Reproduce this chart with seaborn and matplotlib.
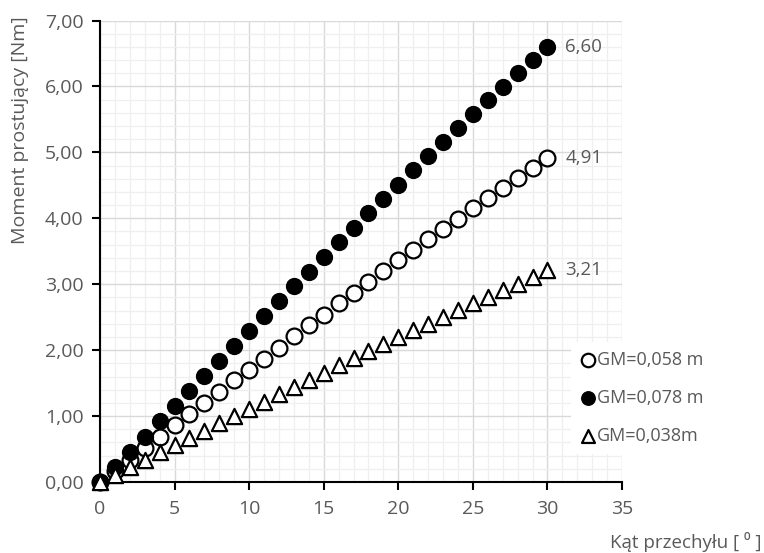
import matplotlib
matplotlib.use("Agg")
import matplotlib.pyplot as plt
import seaborn as sns
from matplotlib.ticker import MultipleLocator, FuncFormatter

# kąt przechyłu [deg]
angles = list(range(0, 31))

# moment prostujący [Nm]
gm_058 = [0.00, 0.17, 0.34, 0.51, 0.69, 0.86, 1.03, 1.20, 1.37, 1.54, 1.70,
          1.87, 2.04, 2.21, 2.38, 2.54, 2.71, 2.87, 3.03, 3.20, 3.36,
          3.52, 3.68, 3.84, 3.99, 4.15, 4.31, 4.46, 4.61, 4.76, 4.91]
gm_078 = [0.00, 0.23, 0.46, 0.69, 0.92, 1.15, 1.38, 1.61, 1.84, 2.06, 2.29,
          2.52, 2.74, 2.97, 3.19, 3.42, 3.64, 3.86, 4.08, 4.30, 4.51,
          4.73, 4.94, 5.16, 5.37, 5.58, 5.79, 5.99, 6.20, 6.40, 6.60]
gm_038 = [0.00, 0.11, 0.22, 0.34, 0.45, 0.56, 0.67, 0.78, 0.89, 1.00, 1.11,
          1.22, 1.33, 1.44, 1.55, 1.66, 1.77, 1.88, 1.98, 2.09, 2.20,
          2.30, 2.40, 2.51, 2.61, 2.71, 2.81, 2.91, 3.01, 3.11, 3.21]
labels = ['GM=0,058 m', 'GM=0,078 m', 'GM=0,038m']

sns.set_style("white")
plt.rcParams['font.family'] = ['Open Sans', 'DejaVu Sans']
GRAY = '#595959'

fig = plt.figure(figsize=(7.64, 5.53), dpi=100)
ax = fig.add_axes([100 / 764, 1 - 482 / 553, 522 / 764, 461.5 / 553])

sns.scatterplot(x=angles, y=gm_058, ax=ax, marker='o', s=130, color='white',
                edgecolor='black', linewidth=1.6, label=labels[0], clip_on=False, zorder=3)
sns.scatterplot(x=angles, y=gm_078, ax=ax, marker='o', s=130, color='black',
                edgecolor='black', linewidth=1.0, label=labels[1], clip_on=False, zorder=3)
sns.scatterplot(x=angles, y=gm_038, ax=ax, marker='^', s=120, color='white',
                edgecolor='black', linewidth=1.6, label=labels[2], clip_on=False, zorder=3)

# etykiety wartości końcowych
for ys in (gm_078, gm_058, gm_038):
    ax.annotate(f'{ys[-1]:.2f}'.replace('.', ','), (angles[-1], ys[-1]),
                xytext=(13, 0), textcoords='offset points', va='center',
                ha='left', fontsize=13.5, color=GRAY)

ax.set_xlim(0, 35)
ax.set_ylim(0, 7)
ax.xaxis.set_major_locator(MultipleLocator(5))
ax.xaxis.set_minor_locator(MultipleLocator(1))
ax.yaxis.set_major_locator(MultipleLocator(1))
ax.yaxis.set_minor_locator(MultipleLocator(0.2))
ax.yaxis.set_major_formatter(FuncFormatter(lambda v, p: f'{v:.2f}'.replace('.', ',')))

ax.grid(which='major', color='#d9d9d9', lw=1.0)
ax.grid(which='minor', color='#efefef', lw=0.9)
ax.set_axisbelow(True)

for side in ('top', 'right'):
    ax.spines[side].set_visible(False)
for side in ('left', 'bottom'):
    ax.spines[side].set_color('black')
    ax.spines[side].set_linewidth(1.5)

ax.tick_params(which='major', bottom=True, left=True, direction='out', length=6,
               width=1.5, color='black', labelcolor=GRAY, labelsize=14)
ax.tick_params(axis='x', which='major', pad=7)
ax.tick_params(axis='y', which='major', pad=6)
ax.tick_params(which='minor', length=0)

fig.text(20 / 764, 1 - 130 / 553, 'Moment prostujący [Nm]', rotation=90,
         ha='center', va='center', fontsize=14, color=GRAY)
fig.text(762 / 764, 1 - 542 / 553, 'Kąt przechyłu [ ⁰ ]', ha='right',
         va='center', fontsize=13.5, color=GRAY)

leg = ax.legend(loc='upper left', bbox_to_anchor=(571 / 764, 1 - 342 / 553),
                bbox_transform=fig.transFigure, frameon=True, facecolor='white',
                edgecolor='none', framealpha=1, fancybox=False, fontsize=13,
                labelspacing=1.1, handletextpad=0.05, handlelength=0.9,
                markerscale=0.85, borderpad=0.5, borderaxespad=0)
for t in leg.get_texts():
    t.set_color(GRAY)

fig.savefig('out.png', dpi=100)
